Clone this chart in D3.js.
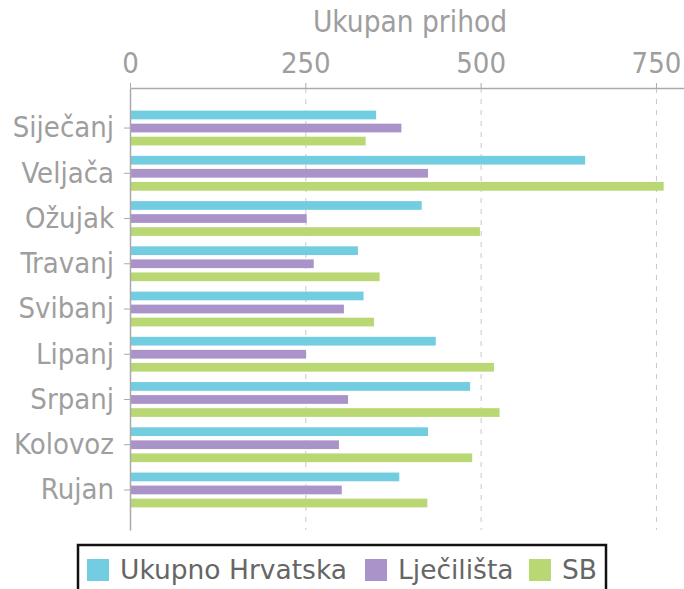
<!DOCTYPE html>
<html>
<head>
<meta charset="utf-8">
<script src="https://cdn.jsdelivr.net/npm/d3@7"></script>
<style>
  body { margin: 0; background: #fff; }
  svg text { font-family: "DejaVu Sans Condensed", "DejaVu Sans", sans-serif; }
  svg .legend text { font-family: "DejaVu Sans", sans-serif; }
</style>
</head>
<body>
<div id="chart"></div>
<script>
// data
var months = ["Siječanj", "Veljača", "Ožujak", "Travanj", "Svibanj", "Lipanj", "Srpanj", "Kolovoz", "Rujan"];
var seriesNames = ["Ukupno Hrvatska", "Lječilišta", "SB"];
var ukupnoHrvatska = [351, 649, 416, 325, 333, 436, 485, 425, 384];
var ljecilista = [387, 425, 252, 262, 305, 251, 311, 298, 302];
var sb = [336, 761, 499, 356, 348, 519, 527, 488, 424];
var xTicks = [0, 250, 500, 750];
var colors = ["#73cde0", "#aa93c9", "#b9d874"];

var width = 684, height = 589;
var margin = {top: 88, left: 130, right: 0, bottom: 59};
var font = "'DejaVu Sans Condensed', sans-serif";

var svg = d3.select("#chart").append("svg")
    .attr("width", width).attr("height", height);

var x = d3.scaleLinear().domain([0, 790]).range([margin.left, width - margin.right]);
var y0 = d3.scaleBand().domain(months)
    .range([margin.top, height - margin.bottom])
    .paddingInner(0.23).paddingOuter(0.5);
var y1 = d3.scaleBand().domain(seriesNames)
    .range([0, y0.bandwidth()])
    .paddingInner(0.33);

// dashed grid lines
svg.append("g").selectAll("line")
    .data(xTicks.filter(function(d) { return d > 0; }))
    .enter().append("line")
    .attr("x1", function(d) { return x(d) + 0.5; })
    .attr("x2", function(d) { return x(d) + 0.5; })
    .attr("y1", margin.top)
    .attr("y2", height - margin.bottom)
    .attr("stroke", "#c8c8c8")
    .attr("stroke-width", 1)
    .attr("stroke-dasharray", "5,6");

// bars
var rows = months.map(function(m, i) {
  return {month: m, values: [ukupnoHrvatska[i], ljecilista[i], sb[i]]};
});

var groups = svg.append("g").selectAll("g")
    .data(rows)
    .enter().append("g")
    .attr("transform", function(d) { return "translate(0," + y0(d.month) + ")"; });

groups.selectAll("rect")
    .data(function(d) {
      return d.values.map(function(v, j) { return {name: seriesNames[j], value: v, i: j}; });
    })
    .enter().append("rect")
    .attr("x", x(0))
    .attr("y", function(d) { return y1(d.name); })
    .attr("width", function(d) { return x(d.value) - x(0); })
    .attr("height", y1.bandwidth())
    .attr("fill", function(d) { return colors[d.i]; });

// top axis
var xAxis = svg.append("g")
    .attr("transform", "translate(0," + margin.top + ")")
    .call(d3.axisTop(x).tickValues(xTicks).tickSize(5).tickPadding(10).tickSizeOuter(0));
xAxis.attr("font-family", font);
xAxis.select(".domain").attr("stroke", "#aaa").attr("stroke-width", 1.5);
xAxis.selectAll(".tick line").attr("stroke", "#aaa");
xAxis.selectAll("text").attr("fill", "#9e9e9e").style("font-size", "29px");

// left axis
var yAxis = svg.append("g")
    .attr("transform", "translate(" + margin.left + ",0)")
    .call(d3.axisLeft(y0).tickSize(6).tickPadding(10).tickSizeOuter(0));
yAxis.attr("font-family", font);
yAxis.select(".domain").attr("stroke", "#aaa").attr("stroke-width", 1.5);
yAxis.selectAll(".tick line").attr("stroke", "#aaa");
yAxis.selectAll("text").attr("fill", "#9e9e9e").style("font-size", "29px");

// axis title
svg.append("text")
    .attr("x", 410)
    .attr("y", 32)
    .attr("text-anchor", "middle")
    .attr("fill", "#9e9e9e")
    .style("font-size", "29.5px")
    .text("Ukupan prihod");

// legend
var legend = svg.append("g").attr("class", "legend");
legend.append("rect")
    .attr("x", 78).attr("y", 545)
    .attr("width", 528).attr("height", 50)
    .attr("fill", "#fff")
    .attr("stroke", "#111")
    .attr("stroke-width", 2.5);

var legendX = [87, 365, 529];
var items = legend.selectAll("g.item")
    .data(seriesNames)
    .enter().append("g")
    .attr("class", "item")
    .attr("transform", function(d, i) { return "translate(" + legendX[i] + ",559)"; });
items.append("rect")
    .attr("width", 22).attr("height", 22)
    .attr("fill", function(d, i) { return colors[i]; });
items.append("text")
    .attr("x", 33).attr("y", 20)
    .attr("fill", "#666")
    .style("font-size", "26.5px")
    .text(function(d) { return d; });
</script>
</body>
</html>
